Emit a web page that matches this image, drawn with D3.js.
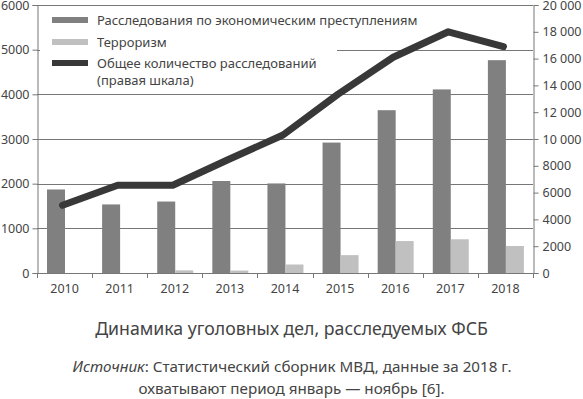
<!DOCTYPE html>
<html><head><meta charset="utf-8">
<script src="https://cdn.jsdelivr.net/npm/d3@7"></script>
<style>
html,body{margin:0;padding:0;background:#fff;}
svg{display:block;font-family:"Noto Sans",sans-serif;}
</style></head>
<body>
<svg id="c" width="583" height="399"></svg>
<script>
const years = ["2010","2011","2012","2013","2014","2015","2016","2017","2018"];
const economic = [1870, 1535, 1600, 2060, 2005, 2920, 3645, 4110, 4765];
const terrorism = [0, 0, 60, 55, 190, 400, 715, 755, 605];
const totalCases = [5050, 6550, 6550, 8450, 10300, 13350, 16100, 18000, 16900];
const leftTicks = [0,1000,2000,3000,4000,5000,6000];
const rightTicks = [0,2000,4000,6000,8000,10000,12000,14000,16000,18000,20000];
const legendLabels = ["Расследования по экономическим преступлениям","Терроризм","Общее количество расследований","(правая шкала)"];
const titleText = "Динамика уголовных дел, расследуемых ФСБ";
const sourceItalic = "Источник";
const sourceLine1 = ": Статистический сборник МВД, данные за 2018 г.";
const sourceLine2 = "охватывают период январь — ноябрь [6].";

const svg = d3.select("#c");
const L = 37, R = 533, T = 5, B = 273;
const textCol = "#444", axisCol = "#777";
const darkBar = "#808080", lightBar = "#c0c0c0", lineCol = "#383838";

const x = d3.scaleBand().domain(years).range([L, R]).paddingInner(0).paddingOuter(0);
const yL = d3.scaleLinear().domain([0, 6000]).range([B, T]);
const yR = d3.scaleLinear().domain([0, 20000]).range([B, T]);

// gridlines
svg.append("g").selectAll("line").data(leftTicks.filter(d => d > 0)).join("line")
  .attr("x1", L).attr("x2", R)
  .attr("y1", d => Math.round(yL(d)) + 0.5).attr("y2", d => Math.round(yL(d)) + 0.5)
  .attr("stroke", axisCol).attr("stroke-width", 1);

// bars
const bw = 18;
const gOff = 10;
svg.append("g").selectAll("rect").data(years).join("rect")
  .attr("x", d => x(d) + gOff).attr("width", bw)
  .attr("y", (d, i) => yL(economic[i])).attr("height", (d, i) => B - yL(economic[i]))
  .attr("fill", darkBar);
svg.append("g").selectAll("rect").data(years).join("rect")
  .attr("x", d => x(d) + gOff + bw).attr("width", bw)
  .attr("y", (d, i) => yL(terrorism[i])).attr("height", (d, i) => B - yL(terrorism[i]))
  .attr("fill", lightBar);

// legend background
svg.append("rect").attr("x", 40).attr("y", 7).attr("width", 297).attr("height", 83).attr("fill", "#fff");

// line
const line = d3.line().x((d, i) => x(years[i]) + x.bandwidth() / 2 - 2).y(d => yR(d));
svg.append("path").datum(totalCases).attr("d", line)
  .attr("fill", "none").attr("stroke", lineCol).attr("stroke-width", 7)
  .attr("stroke-linecap", "round").attr("stroke-linejoin", "round");

// axes
const axL = d3.axisLeft(yL).tickValues(leftTicks).tickSize(5).tickPadding(3).tickFormat(d3.format("d"));
const gL = svg.append("g").attr("transform", `translate(${L + 0.5},0)`).call(axL);
const fmtR = d => d >= 10000 ? d3.format(",")(d).replace(",", " ") : String(d);
const axR = d3.axisRight(yR).tickValues(rightTicks).tickSize(5).tickPadding(4).tickFormat(fmtR);
const gR = svg.append("g").attr("transform", `translate(${R + 0.5},0)`).call(axR);
const axB = d3.axisBottom(x).tickSize(0).tickPadding(11);
const gB = svg.append("g").attr("transform", `translate(0,${B + 0.5})`).call(axB);
// band boundary ticks on x axis
svg.append("g").selectAll("line").data(d3.range(years.length + 1)).join("line")
  .attr("x1", i => Math.round(L + i * x.step()) + 0.5).attr("x2", i => Math.round(L + i * x.step()) + 0.5)
  .attr("y1", B).attr("y2", B + 5).attr("stroke", axisCol);

[gL, gR, gB].forEach(g => {
  g.select(".domain").attr("stroke", axisCol);
  g.selectAll(".tick line").attr("stroke", axisCol);
  g.selectAll(".tick text").attr("fill", textCol).style("font-size", "12.5px").style("font-family", "\"Noto Sans\",sans-serif");
});
gB.select(".domain").attr("d", `M${L},0H${R}`);

// legend
const lg = svg.append("g");
const swX1 = 52, swX2 = 88, txX = 97;
const legRows = [
  {y: 20, color: darkBar, w: 6, label: legendLabels[0]},
  {y: 42, color: lightBar, w: 6, label: legendLabels[1]},
  {y: 63, color: lineCol, w: 6, label: legendLabels[2]}
];
legRows.forEach(r => {
  lg.append("line").attr("x1", swX1).attr("x2", swX2).attr("y1", r.y).attr("y2", r.y)
    .attr("stroke", r.color).attr("stroke-width", r.w);
  lg.append("text").attr("x", txX).attr("y", r.y + 5).text(r.label)
    .attr("fill", textCol).style("font-size", "13px");
});
lg.append("text").attr("x", txX).attr("y", 63 + 5 + 17).text(legendLabels[3])
  .attr("fill", textCol).style("font-size", "13px");

// title and source
svg.append("text").attr("x", 291.5).attr("y", 335).attr("text-anchor", "middle")
  .attr("fill", textCol).style("font-size", "17.7px").text(titleText);
const s1 = svg.append("text").attr("x", 292).attr("y", 372).attr("text-anchor", "middle")
  .attr("fill", textCol).style("font-size", "15.2px");
s1.append("tspan").style("font-style", "italic").text(sourceItalic);
s1.append("tspan").text(sourceLine1);
svg.append("text").attr("x", 291.5).attr("y", 393.5).attr("text-anchor", "middle")
  .attr("fill", textCol).style("font-size", "15.2px").text(sourceLine2);
</script>
</body></html>
